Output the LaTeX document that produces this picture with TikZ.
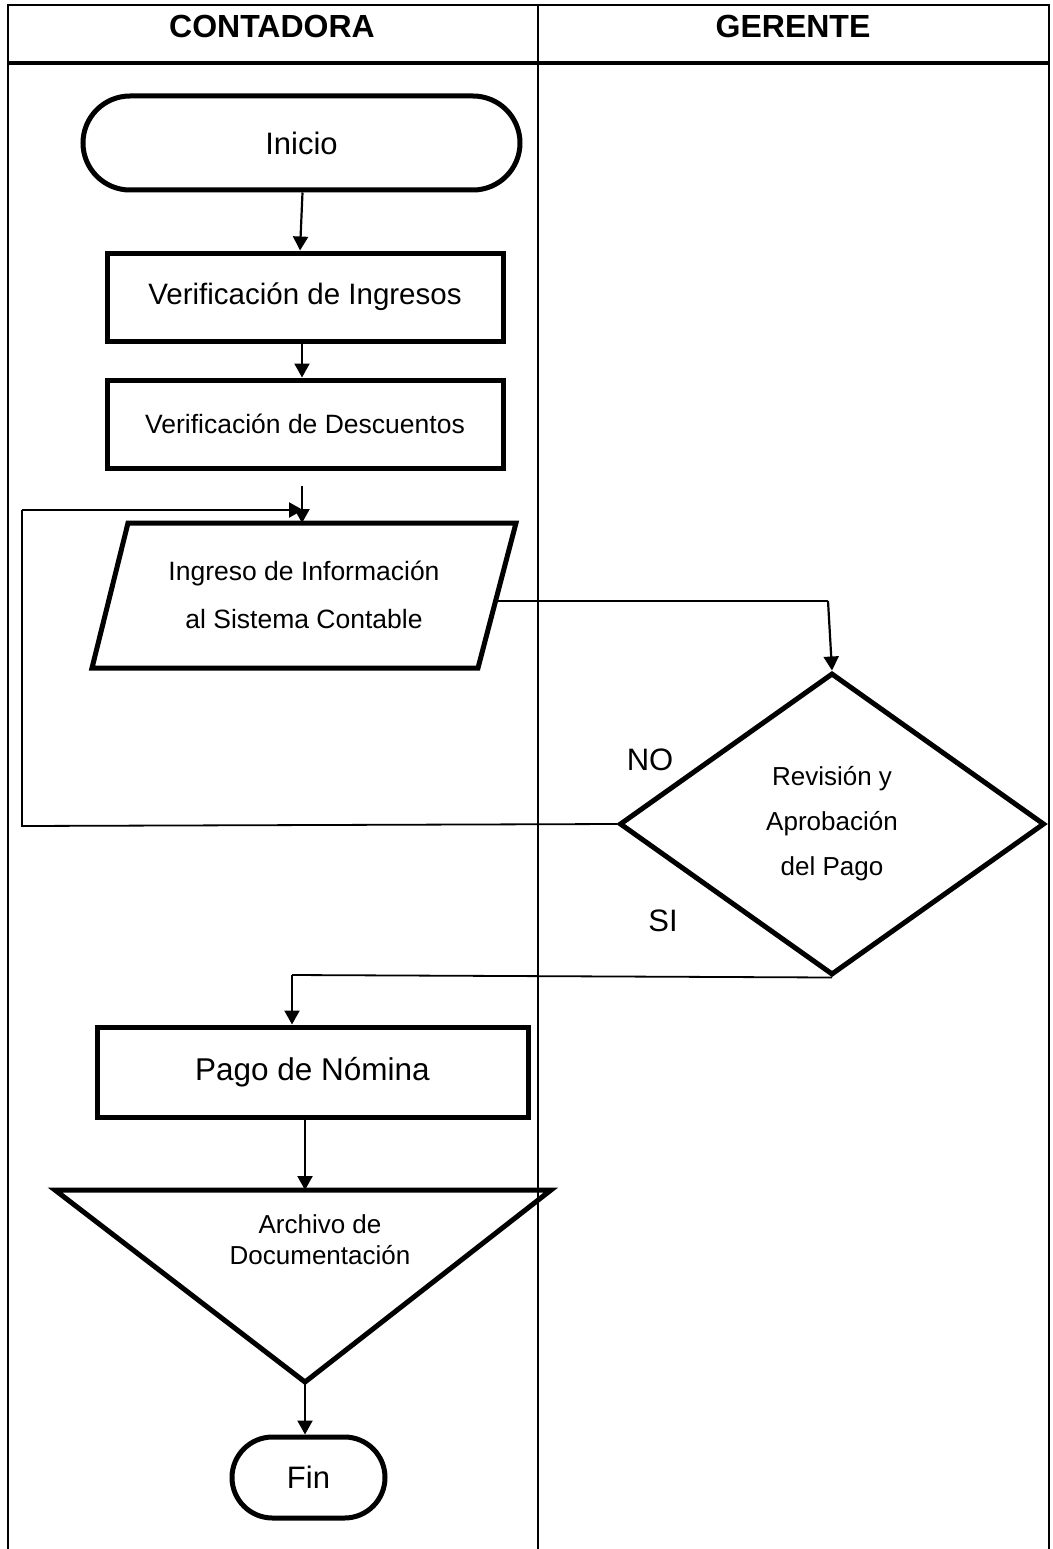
\documentclass[tikz,border=0pt]{standalone}
\usepackage{fontspec}
\setmainfont{Liberation Sans}
\usetikzlibrary{arrows.meta,shapes.misc,shapes.geometric}

\tikzset{
  laneline/.style={line width=1.6pt},
  shapeline/.style={line width=5pt, line join=miter},
  procbox/.style={draw, shapeline, rectangle, inner sep=0pt},
  terminal/.style={draw, shapeline, rounded rectangle, inner sep=0pt},
  decision/.style={draw, shapeline, diamond, inner sep=0pt, align=center},
  flow/.style={line width=2.2pt, -{Triangle[length=14pt,width=15pt]}},
  plainflow/.style={line width=1.8pt},
  lbl/.style={inner sep=0pt, align=center},
}

\begin{document}
\begin{tikzpicture}[x=1pt, y=-1pt]
  \useasboundingbox (0,0) rectangle (1052,1549);

  % swimlane frame
  \draw[laneline] (8,1549) -- (8,5) -- (1049,5) -- (1049,1549);
  \draw[laneline] (538,5) -- (538,1549);
  \draw[line width=4pt] (8,63) -- (1049,63);
  \node[lbl, font=\fontsize{32}{38}\selectfont\bfseries] (hcont) at (272,26) {CONTADORA};
  \node[lbl, font=\fontsize{32}{38}\selectfont\bfseries] (hger) at (793,26) {GERENTE};

  % process steps
  \node[terminal, minimum width=437pt, minimum height=94pt,
        font=\fontsize{31}{36}\selectfont] (inicio) at (301.5,143) {Inicio};
  \node[procbox, minimum width=396pt, minimum height=88pt,
        font=\fontsize{29.5}{34}\selectfont] (ing) at (305,297) {Verificación de Ingresos};
  \node[procbox, minimum width=396pt, minimum height=88pt,
        font=\fontsize{26.5}{31}\selectfont] (desc) at (305,424) {Verificación de Descuentos};

  % data input (parallelogram)
  \draw[shapeline] (128,523) -- (516,523) -- (478,668) -- (92,668) -- cycle;
  \coordinate (ingtop) at (302,523);
  \coordinate (ingright) at (497,601);
  \node[lbl, font=\fontsize{26.5}{48}\selectfont] (ingsis) at (304,595)
       {Ingreso de Información\\al Sistema Contable};

  % decision
  \node[decision, minimum width=425pt, minimum height=302pt,
        font=\fontsize{26}{45}\selectfont] (dia) at (832,824)
       {Revisión y\\Aprobación\\del Pago};
  \node[lbl, font=\fontsize{31}{36}\selectfont] (no) at (650,760) {NO};
  \node[lbl, font=\fontsize{31}{36}\selectfont] (si) at (663,921) {SI};

  \node[procbox, minimum width=431pt, minimum height=90pt,
        font=\fontsize{31.5}{36}\selectfont] (pago) at (312.5,1072) {Pago de Nómina};

  % archive (inverted triangle)
  \draw[shapeline] (55,1190) -- (551,1190) -- (305,1382) -- cycle;
  \coordinate (arctop) at (305,1190);
  \coordinate (arcapex) at (305,1382);
  \node[lbl, font=\fontsize{26}{31}\selectfont] (arc) at (320,1240)
       {Archivo de\\Documentación};

  \node[terminal, minimum width=153pt, minimum height=81pt,
        font=\fontsize{31}{36}\selectfont] (fin) at (308.5,1477.5) {Fin};

  % connectors
  \draw[flow] ([xshift=1pt]inicio.south) -- ([xshift=-5pt]ing.north);
  \draw[flow] ([xshift=-3pt]ing.south) -- ([xshift=-3pt]desc.south |- desc.north);
  \draw[flow] ([xshift=-3pt,yshift=-15pt]desc.south) -- (ingtop);
  \draw[plainflow] (ingright) -- (828,601) coordinate (turn);
  \draw[flow] (turn) -- (dia.north);
  \draw[plainflow] (dia.west) -- (22,826) coordinate (loopcorner) -- (22,510) coordinate (looptop);
  \draw[flow] (looptop) -- (303,510) coordinate (loopend);
  \draw[plainflow] (dia.south) -- (292,975) coordinate (sicorner);
  \draw[flow] (sicorner) -- (sicorner |- pago.north);
  \draw[flow] ([xshift=-7.5pt]pago.south) -- (arctop);
  \draw[flow] (arcapex) -- (arcapex |- fin.north);
\end{tikzpicture}
\end{document}
